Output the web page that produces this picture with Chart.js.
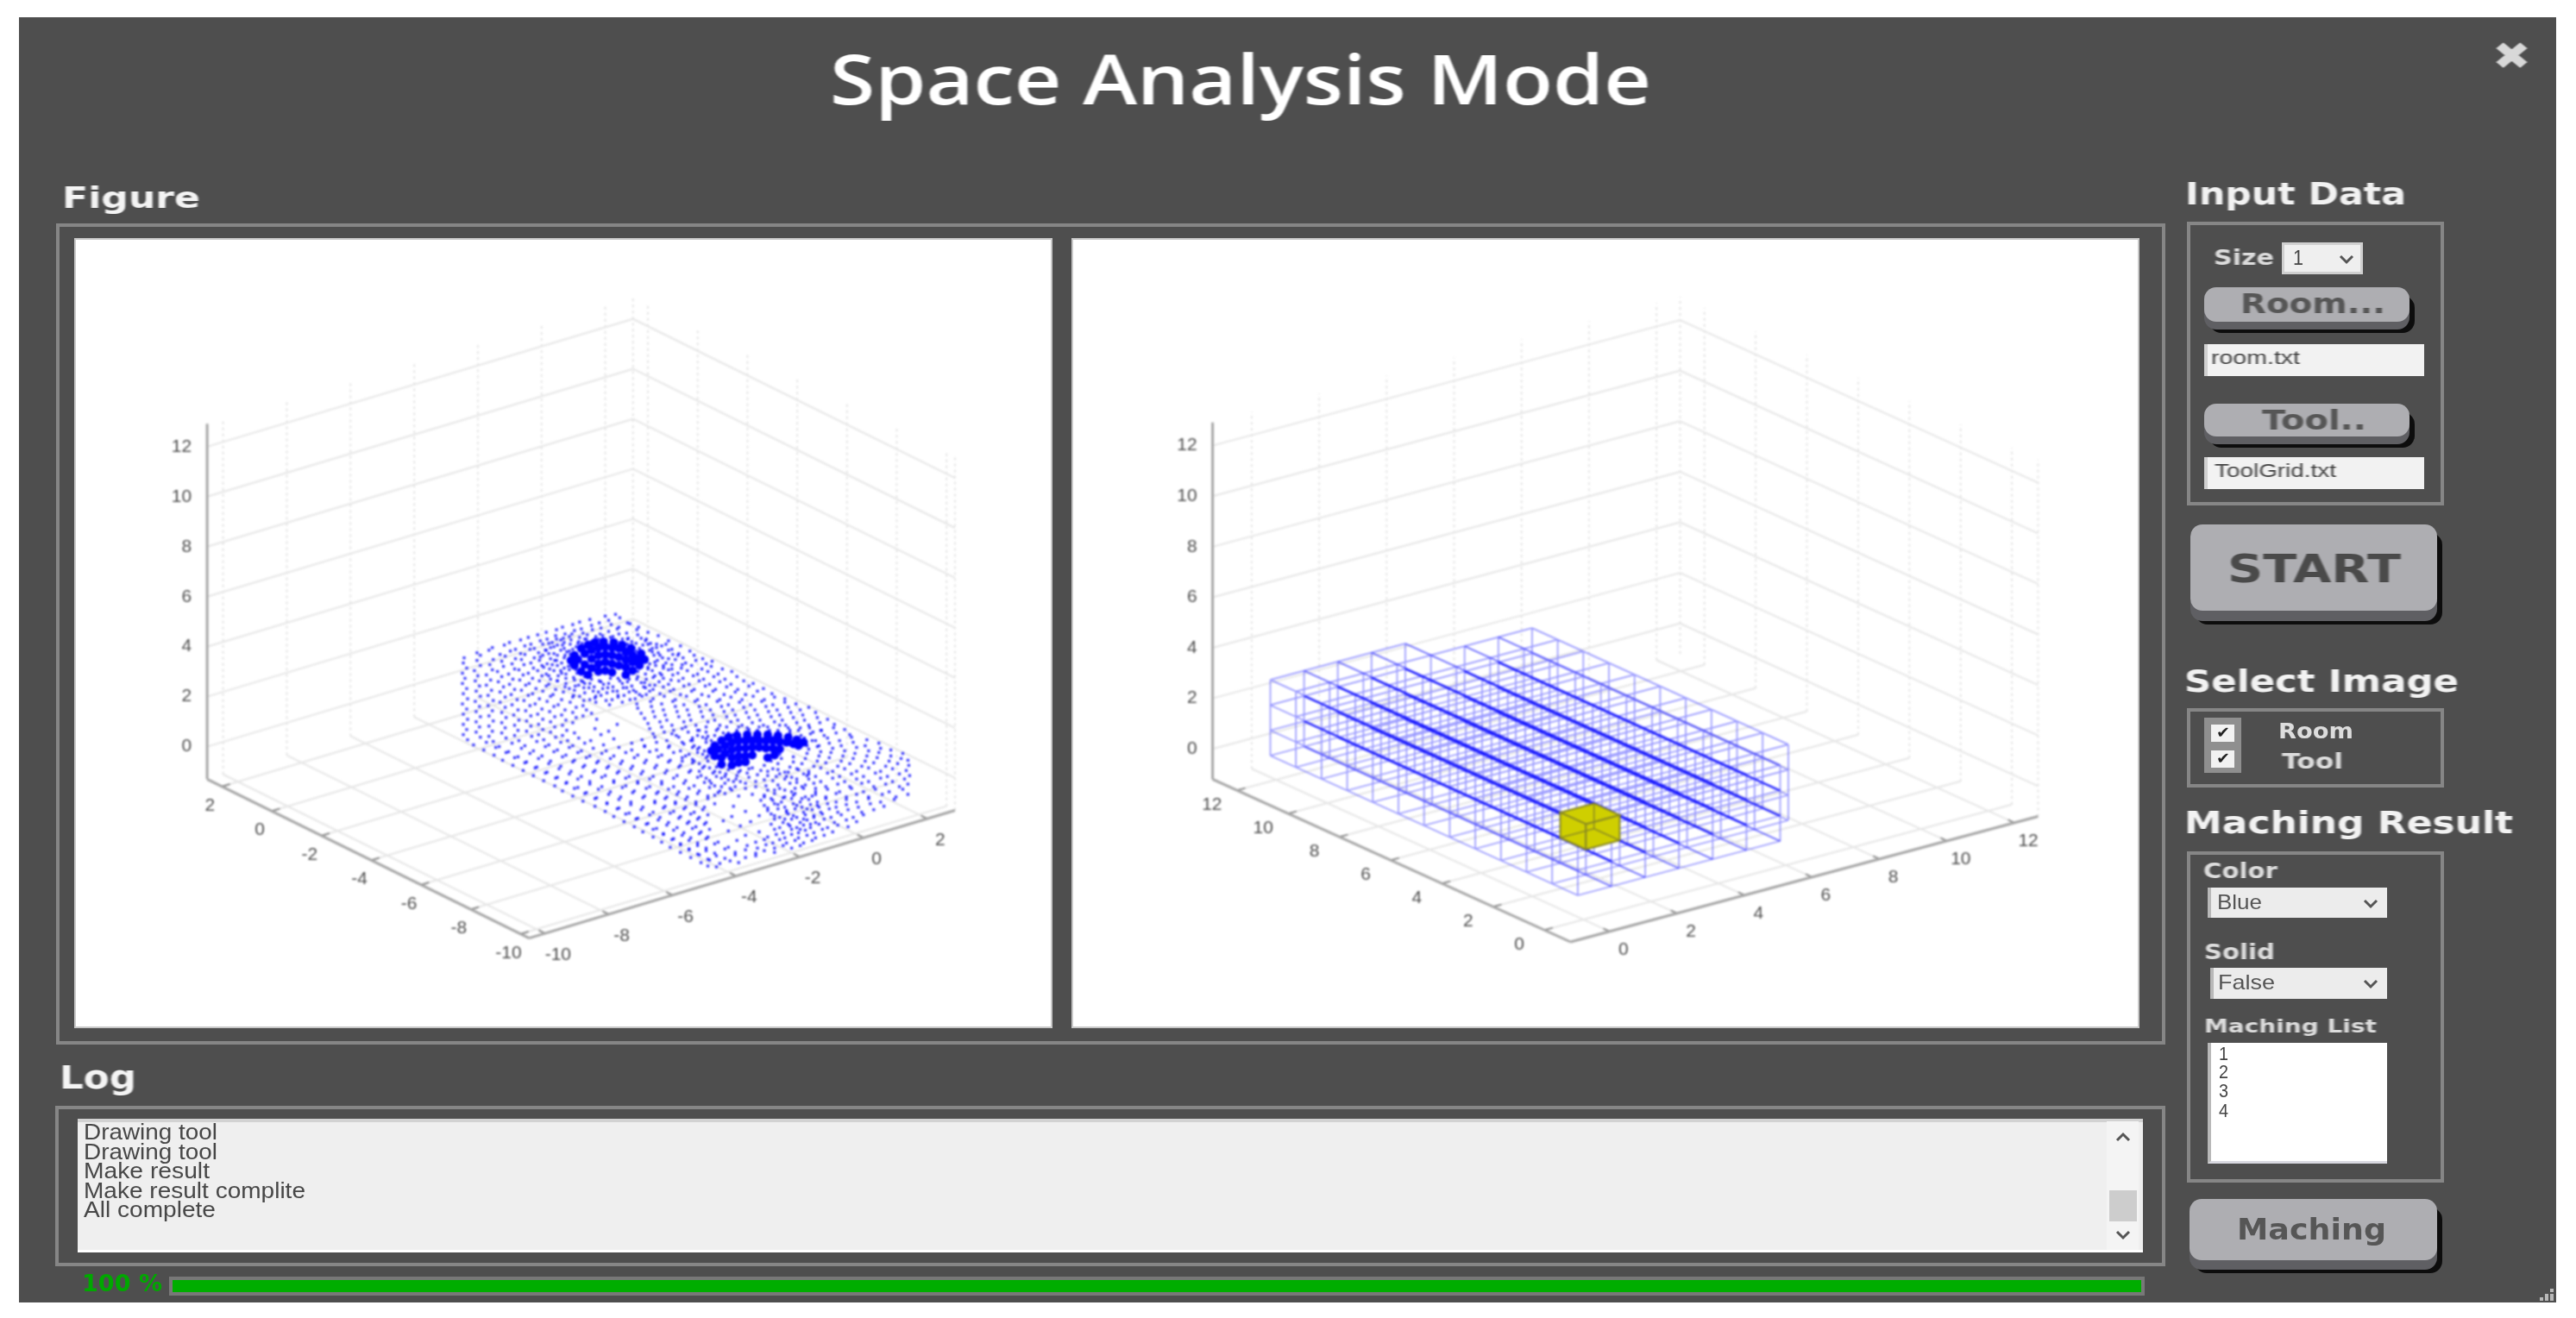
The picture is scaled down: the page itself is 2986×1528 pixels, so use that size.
<!DOCTYPE html>
<html>
<head>
<meta charset="utf-8">
<title>Space Analysis Mode</title>
<script src="https://cdn.jsdelivr.net/npm/chart.js@4"></script>
<style>
html, body { margin: 0; background: #fff; overflow: hidden; }
#app { position: relative; width: 2986px; height: 1528px; }
.b { position: absolute; box-sizing: border-box; }
.t { position: absolute; white-space: pre; line-height: 1; transform-origin: left center; filter: blur(0.7px); }
canvas { position: absolute; filter: blur(0.8px); }
</style>
</head>
<body>
<div id="app"></div>
<script>
// axis tick labels
const heightTicks = [0, 2, 4, 6, 8, 10, 12];
const roomLeftTicks = [2, 0, -2, -4, -6, -8, -10];
const roomRightTicks = [-10, -8, -6, -4, -2, 0, 2];
const toolLeftTicks = [12, 10, 8, 6, 4, 2, 0];
const toolRightTicks = [0, 2, 4, 6, 8, 10, 12];

// room scan, flat x,y pairs from the top of the cloud down
const roomScan = [
  702,714, 714,712,
  672,721, 684,718, 695,722, 706,719, 719,716, 728,722,
  652,727, 664,724, 674,729, 686,725, 697,728, 709,724, 718,727, 731,723, 741,727,
  633,733, 645,730, 655,735, 666,731, 676,734, 687,730, 696,735, 706,732, 716,729, 727,734, 739,730, 752,733,
  612,739, 623,736, 634,741, 644,737, 653,740, 663,735, 672,739, 681,736, 690,741, 699,737, 708,739, 718,735, 729,740, 740,736, 750,741, 764,737,
  590,745, 603,742, 615,747, 626,743, 636,746, 645,741, 654,745, 662,742, 670,746, 678,741, 686,744, 694,741, 702,745, 710,742, 719,745, 728,741, 738,746, 749,743, 762,747, 776,743,
  570,751, 584,748, 597,753, 608,749, 619,752, 629,747, 638,751, 646,748, 654,752, 661,747, 668,750, 675,746, 682,749, 728,747, 736,751, 746,748, 757,752, 768,749, 780,753, 790,749,
  552,757, 566,754, 579,759, 591,755, 603,758, 614,753, 624,757, 633,754, 642,758, 650,754, 657,756, 664,753, 738,755, 745,758, 754,754, 764,757, 776,754, 788,758, 801,755,
  537,763, 556,760, 571,765, 585,761, 597,764, 608,759, 619,763, 629,760, 638,764, 646,760, 654,763, 661,759, 743,761, 750,764, 759,760, 769,763, 781,759, 793,763, 806,760, 816,764,
  536,769, 552,766, 567,771, 581,767, 593,770, 604,765, 615,769, 625,766, 634,770, 643,766, 651,769, 659,765, 746,767, 754,770, 763,766, 773,769, 784,765, 796,769, 808,766, 820,770, 827,767,
  540,775, 556,772, 570,777, 583,773, 596,776, 607,771, 618,775, 628,772, 637,776, 646,772, 654,775, 662,771, 745,773, 752,776, 761,772, 770,775, 780,771, 791,775, 803,772, 815,776, 826,773, 839,776,
  535,781, 549,778, 563,783, 576,779, 589,782, 601,777, 612,781, 623,778, 633,782, 642,778, 651,781, 660,777, 669,781, 678,785, 740,779, 749,782, 757,778, 766,781, 776,777, 787,781, 798,778, 810,782, 822,779, 834,782, 850,779,
  538,787, 553,784, 568,789, 581,785, 594,788, 606,783, 617,787, 628,784, 638,788, 647,784, 656,787, 666,789, 676,791, 686,788, 697,791, 708,787, 719,790, 730,788, 740,785, 750,788, 760,784, 770,787, 781,783, 793,787, 805,784, 817,788, 829,785, 842,788, 856,785,
  535,793, 550,790, 563,795, 577,791, 590,794, 602,789, 613,793, 625,790, 636,794, 646,790, 656,793, 667,796, 678,793, 689,797, 700,794, 711,797, 722,793, 733,796, 744,792, 754,795, 765,791, 776,794, 788,790, 800,794, 812,790, 824,794, 836,791, 849,794, 864,790, 875,793,
  540,799, 555,796, 569,801, 583,797, 596,800, 609,795, 621,799, 633,796, 644,800, 655,797, 666,801, 677,798, 688,802, 699,799, 711,802, 723,798, 735,801, 747,797, 758,800, 770,797, 782,800, 794,796, 806,800, 819,796, 831,800, 844,797, 857,800, 870,796, 887,799,
  536,805, 551,802, 565,807, 579,803, 592,806, 604,801, 617,805, 629,802, 641,806, 653,803, 665,807, 678,804, 691,808, 704,804, 717,807, 730,803, 742,806, 754,802, 766,805, 778,802, 790,806, 803,802, 815,806, 828,802, 841,806, 854,803, 866,806, 880,802, 897,805,
  541,811, 556,808, 571,813, 585,809, 599,812, 612,807, 625,811, 638,808, 651,812, 664,809, 677,813, 690,810, 703,813, 717,809, 731,812, 745,808, 758,811, 771,808, 784,812, 797,808, 810,812, 823,808, 836,812, 849,809, 862,812, 875,808, 888,812, 900,809, 912,811,
  535,817, 550,814, 565,819, 579,815, 593,818, 607,813, 620,817, 634,814, 647,818, 661,815, 676,819, 691,815, 707,818, 722,815, 739,817, 755,814, 768,817, 781,814, 794,818, 807,814, 820,818, 833,814, 846,818, 859,815, 872,818, 885,814, 898,818, 912,815, 925,817,
  540,823, 555,820, 570,825, 585,821, 600,824, 614,819, 628,823, 642,820, 655,824, 668,821, 680,824, 740,822, 756,820, 770,824, 784,820, 798,824, 812,820, 825,824, 838,820, 851,824, 864,821, 877,824, 890,820, 903,824, 916,821, 930,824, 940,821,
  536,829, 551,826, 566,831, 581,827, 595,830, 609,825, 623,829, 637,826, 651,830, 664,827, 676,831, 686,828, 744,828, 758,826, 772,830, 786,826, 800,830, 814,826, 828,830, 841,826, 854,830, 867,827, 880,830, 893,826, 906,830, 919,827, 933,830, 948,827,
  541,835, 556,832, 571,837, 586,833, 601,836, 615,831, 629,835, 643,832, 656,836, 668,833, 692,835, 748,834, 760,832, 774,836, 788,832, 802,836, 816,832, 830,836, 844,832, 857,836, 870,833, 883,836, 896,832, 909,836, 922,833, 935,836, 950,833, 962,835,
  536,841, 551,838, 566,843, 581,839, 596,842, 610,837, 624,841, 638,838, 652,842, 664,839, 716,841, 752,840, 766,838, 780,842, 794,838, 808,842, 822,838, 836,842, 849,838, 862,842, 874,839, 887,842, 900,838, 913,842, 926,839, 940,842, 953,839, 970,841,
  540,847, 555,844, 570,849, 585,845, 600,848, 615,843, 629,847, 643,844, 657,848, 690,846, 706,849, 754,846, 768,844, 782,848, 796,844, 810,848, 820,844, 832,848, 844,844, 856,848, 868,845, 880,848, 892,844, 904,848, 916,845, 928,848, 941,845, 955,848, 969,845, 982,847,
  536,853, 551,850, 566,855, 581,851, 596,854, 610,849, 624,853, 638,850, 652,854, 666,851, 697,853, 758,852, 771,850, 785,854, 799,850, 810,854, 820,850, 830,854, 840,851, 850,853, 870,851, 892,850, 905,854, 918,851, 931,854, 945,850, 958,854, 972,851, 988,853,
  541,859, 556,856, 571,861, 586,857, 601,860, 616,855, 630,859, 644,856, 658,860, 671,857, 685,860, 712,858, 745,859, 760,856, 774,860, 788,856, 802,860, 816,856, 826,860, 935,857, 948,860, 962,857, 976,860, 990,856, 1008,859,
  548,865, 563,862, 578,867, 593,863, 608,866, 622,861, 636,865, 650,862, 664,866, 678,863, 700,865, 733,863, 748,866, 762,862, 777,866, 792,862, 806,866, 820,862, 936,864, 950,867, 964,863, 978,866, 992,862, 1006,866, 1022,863,
  560,871, 574,868, 589,873, 604,869, 618,872, 632,867, 646,871, 660,868, 674,872, 688,869, 703,872, 718,868, 733,871, 748,867, 762,871, 776,868, 790,872, 804,868, 818,872, 940,870, 954,873, 968,869, 982,872, 996,868, 1010,872, 1024,869, 1036,871,
  572,877, 586,874, 600,879, 614,875, 628,878, 642,873, 656,877, 670,874, 684,878, 698,875, 712,878, 726,874, 740,877, 754,873, 768,877, 782,874, 796,878, 810,874, 822,878, 906,876, 922,879, 938,875, 952,878, 966,874, 980,878, 994,875, 1008,878, 1022,874, 1036,878, 1050,875,
  582,883, 596,880, 610,885, 624,881, 638,884, 652,879, 666,883, 680,880, 694,884, 708,881, 722,884, 736,880, 750,883, 764,879, 778,883, 792,880, 806,884, 820,880, 896,884, 908,881, 922,885, 936,881, 950,884, 964,880, 978,884, 992,881, 1006,884, 1020,880, 1034,884, 1048,881, 1056,883,
  594,889, 608,886, 622,891, 636,887, 650,890, 664,885, 678,889, 692,886, 706,890, 720,887, 734,890, 748,886, 762,889, 776,885, 790,889, 804,886, 818,890, 832,891, 846,894, 860,895, 874,892, 888,889, 904,887, 918,891, 932,887, 946,890, 960,886, 974,890, 988,887, 1002,890, 1016,886, 1030,890, 1044,887, 1057,889,
  606,895, 620,892, 634,897, 648,893, 662,896, 676,891, 690,895, 704,892, 718,896, 732,893, 746,896, 760,892, 774,895, 788,891, 802,895, 816,892, 830,896, 843,899, 856,901, 868,898, 884,895, 898,893, 912,897, 926,893, 940,896, 954,892, 968,896, 982,893, 996,896, 1010,892, 1024,896, 1038,893, 1054,895,
  618,901, 632,898, 646,903, 660,899, 674,902, 688,897, 702,901, 716,898, 730,902, 744,899, 758,902, 772,898, 786,901, 800,897, 814,901, 828,898, 842,902, 855,905, 870,903, 892,901, 906,899, 920,903, 934,899, 948,902, 962,898, 976,902, 990,899, 1004,902, 1018,898, 1032,902, 1046,899, 1058,901,
  630,907, 644,904, 657,909, 670,905, 684,908, 698,903, 712,907, 726,904, 740,908, 754,905, 768,908, 782,904, 796,907, 810,903, 824,907, 838,904, 852,908, 866,910, 898,907, 912,905, 926,909, 940,905, 954,908, 968,904, 982,908, 996,905, 1010,908, 1024,904, 1038,908, 1052,905,
  643,913, 656,910, 670,915, 684,911, 698,914, 712,909, 726,913, 740,910, 754,914, 768,911, 782,914, 794,910, 806,913, 818,909, 830,913, 842,910, 854,914, 904,912, 918,910, 932,914, 946,910, 960,914, 974,911, 988,914, 1002,910, 1016,914, 1030,911, 1046,914, 1056,911,
  652,919, 666,916, 680,921, 694,917, 708,920, 722,915, 736,919, 750,916, 764,920, 776,917, 788,920, 800,916, 812,919, 824,915, 836,919, 848,916, 892,918, 906,916, 920,920, 934,916, 948,920, 962,917, 976,920, 990,916, 1004,920, 1018,917, 1034,920, 1050,917,
  664,925, 678,922, 692,927, 706,923, 720,926, 734,921, 748,925, 762,922, 774,926, 786,923, 798,926, 810,922, 822,925, 834,921, 888,924, 900,922, 912,926, 924,922, 936,926, 948,923, 960,926, 972,922, 984,926, 996,923, 1010,926, 1026,923, 1042,926, 1056,923,
  676,931, 690,928, 704,933, 718,929, 732,932, 746,927, 760,931, 772,928, 784,932, 796,929, 808,932, 822,928, 884,930, 896,928, 908,932, 920,928, 930,932, 940,929, 950,932, 960,928, 972,932, 984,929, 996,932, 1010,928, 1024,932, 1040,929,
  690,937, 704,934, 718,939, 732,935, 746,938, 760,933, 772,937, 784,934, 796,938, 808,935, 818,938, 830,934, 852,937, 888,936, 900,934, 912,938, 922,934, 932,938, 942,935, 952,938, 962,934, 972,938, 984,935, 998,938, 1012,934, 1028,937,
  702,943, 716,940, 730,945, 744,941, 758,944, 770,939, 782,943, 794,940, 806,944, 816,941, 866,943, 892,942, 904,940, 914,944, 924,940, 934,944, 944,941, 954,944, 964,940, 974,944, 986,941, 1002,944, 1016,941,
  712,949, 726,946, 740,951, 754,947, 766,950, 778,945, 790,949, 802,946, 812,950, 822,947, 850,949, 882,948, 896,946, 906,950, 916,946, 926,950, 936,947, 946,950, 956,946, 966,950, 978,947, 992,950, 1004,947,
  724,955, 738,952, 752,957, 764,953, 776,956, 788,951, 800,955, 810,952, 820,956, 840,954, 872,955, 900,952, 910,956, 920,952, 930,956, 938,953, 948,956, 958,952, 970,956, 984,953, 996,955,
  736,961, 750,958, 762,963, 774,959, 786,962, 798,957, 808,961, 818,958, 860,960, 896,958, 906,962, 916,958, 926,962, 934,959, 942,962, 952,958, 962,962, 974,959, 986,961,
  746,967, 758,964, 770,969, 782,965, 794,968, 804,963, 814,967, 824,964, 846,966, 882,967, 900,964, 910,968, 920,964, 928,968, 936,965, 946,968, 956,964, 968,967,
  758,973, 770,970, 782,975, 792,971, 802,974, 812,969, 822,973, 866,971, 892,973, 902,970, 912,974, 920,970, 928,974, 938,971, 948,974, 958,971,
  768,979, 780,976, 790,981, 800,977, 810,980, 820,975, 834,979, 856,977, 878,979, 888,976, 898,980, 906,976, 914,980, 924,977, 934,980, 944,977,
  778,985, 790,982, 800,987, 810,983, 820,986, 830,981, 846,985, 868,983, 880,986, 890,982, 900,986, 910,983, 920,986, 930,983,
  790,991, 800,988, 810,993, 820,989, 830,992, 842,987, 854,991, 866,988, 878,992, 888,989, 900,991,
  802,997, 812,994, 822,999, 832,995, 842,998, 854,994, 866,997, 878,995,
  814,1003, 824,1000, 836,1004, 848,1001, 858,1003,
  822,1007, 832,1008
];
// more dots crowding in around the two dense spots and along the rays out of them
const roomHalo = [
  640,745, 650,742, 660,738, 671,744, 680,741, 691,738, 700,742, 711,738, 722,741, 733,744, 744,740, 755,746,
  632,754, 642,750, 652,748, 660,755, 733,748, 742,752, 752,747, 762,751, 773,747,
  626,762, 636,758, 645,766, 655,760, 664,768, 748,762, 757,756, 766,760, 776,764, 787,760,
  630,774, 640,771, 650,778, 659,773, 668,777, 752,774, 760,768, 770,772, 780,776, 792,771,
  636,784, 646,790, 656,782, 665,786, 674,790, 684,793, 695,790, 706,793, 717,787, 728,791, 739,788, 748,792, 758,786, 768,783, 779,789,
  660,799, 671,795, 683,798, 694,803, 705,798, 716,802, 727,798, 738,803, 749,798, 760,795,
  672,808, 684,812, 697,807, 710,812, 724,807, 737,811, 750,806,
  780,852, 792,846, 804,857, 812,848, 822,855, 834,846, 846,851, 858,844, 870,847, 882,844, 894,848, 906,842, 918,848, 930,845, 942,852, 954,848,
  794,864, 804,860, 812,868, 820,858, 800,876, 810,870, 816,876, 792,884, 804,882, 812,887, 822,884, 938,866, 944,860, 952,866,
  812,896, 824,892, 836,897, 848,890, 858,897, 870,893, 880,900, 892,896, 904,894, 916,897, 928,894, 940,899,
  820,904, 832,902, 846,906, 860,908, 878,908, 888,906, 902,902, 914,902, 926,905, 938,901,
  826,910, 838,914, 850,918, 866,916, 878,914, 890,913, 900,918, 912,918, 924,916, 936,912, 948,916,
  830,924, 842,922, 858,925, 874,923, 888,926, 898,930, 910,927, 922,924, 932,928, 944,925,
  892,939, 904,935, 914,942, 926,936, 938,940, 950,936, 900,948, 912,952, 922,948, 934,952, 946,948, 918,960, 930,964, 942,958
];
// the two places where the scan is so dense it reads as solid blue
const roomDense = [
  [670, 765], [678, 758], [678, 771], [686, 754], [686, 764], [686, 775], [694, 751], [694, 760], [694, 770], [694, 779],
  [702, 750], [702, 759], [702, 768], [702, 778], [710, 751], [710, 760], [710, 770], [710, 780], [718, 752], [718, 762],
  [718, 772], [726, 756], [726, 765], [726, 774], [734, 760], [734, 768], [741, 764],
  [662, 766], [666, 760], [666, 772], [674, 752], [674, 779], [682, 748], [682, 783], [726, 783], [734, 778], [742, 772],
  [744, 758], [748, 765], [690, 745], [700, 744], [712, 745], [722, 748], [732, 752],
  [834, 870], [842, 866], [842, 875], [850, 862], [850, 871], [850, 880], [858, 860], [858, 869], [858, 878], [858, 886],
  [866, 860], [866, 869], [866, 878], [866, 885], [874, 860], [874, 868], [874, 877], [882, 860], [882, 868], [890, 860],
  [890, 869], [898, 860], [898, 869], [892, 880], [900, 877], [906, 861], [906, 870], [914, 862], [922, 864], [928, 866],
  [826, 872], [830, 866], [830, 878], [838, 880], [838, 860], [846, 856], [856, 854], [868, 853], [880, 853], [892, 853],
  [904, 854], [916, 856], [926, 859], [934, 862], [838, 888], [850, 889]
];

// tool grid: node values and, per column, which nodes the column runs between
const toolP = [-0.25, 0.75, 1.75, 2.75, 3.75, 4.75, 5.75, 6.75, 7.75, 8.75, 9.75, 10.75, 11.75];
const toolQ = [-0.36, 0.64, 1.64, 2.64, 3.64, 4.64, 5.64, 6.64];
const toolZ = [0, 1, 2, 3];
const columnFront = [0, 0, 0, 0, 0, 0, 1];
const columnBack = [12, 12, 12, 12, 11, 11, 11];
const matchedCell = [1, 1, 1]; // p, q, z node index of the yellow cell

// how each 3d box lands on the flat scales of its chart
const roomView = { x0: 613, y0: 1091.5, u0: -10.34, u1: 2.6, v0: -10.5, v1: 2.87, z0: -1.3, z1: 12.92, ux: -29.1, uy: -14.4, vx: 37.25, vy: -11.2, zy: -29.3 };
const toolView = { x0: 1820.5, y0: 1092, u0: -1.02, u1: 12.95, v0: -1.16, v1: 12.7, z0: -1.2, z1: 12.92, ux: -29.7, uy: -13.5, vx: 39.1, vy: -10.5, zy: -29.3 };

function project(view, u, v, z) {
  const du = u - view.u0, dv = v - view.v0, dz = z - view.z0;
  return { x: view.x0 + du * view.ux + dv * view.vx, y: view.y0 + du * view.uy + dv * view.vy + dz * view.zy };
}

function segments(view, list) {
  const out = [];
  for (const [a, b] of list) {
    out.push(project(view, ...a), project(view, ...b), { x: NaN, y: NaN });
  }
  return out;
}

function lineSet(data, color, width, order, dash) {
  return { type: 'scatter', data, showLine: true, borderColor: color, borderWidth: width, borderDash: dash || [], pointRadius: 0, order, spanGaps: false, fill: false };
}

function boxSets(view, uTicks, vTicks) {
  const { u0, u1, v0, v1, z0, z1 } = view;
  const solid = [], dotted = [];
  for (const z of heightTicks) {
    solid.push([[u1, v0, z], [u1, v1, z]], [[u1, v1, z], [u0, v1, z]]);
  }
  for (const u of uTicks) {
    solid.push([[u, v0, z0], [u, v1, z0]]);
    dotted.push([[u, v1, z0], [u, v1, z1]]);
  }
  for (const v of vTicks) {
    solid.push([[u0, v, z0], [u1, v, z0]]);
    dotted.push([[u1, v, z0], [u1, v, z1]]);
  }
  dotted.push([[u1, v1, z0], [u1, v1, z1]], [[u0, v1, z0], [u0, v1, z1]]);
  const axes = [[[u1, v0, z0], [u1, v0, z1]], [[u1, v0, z0], [u0, v0, z0]], [[u0, v0, z0], [u0, v1, z0]]];
  const ticks = [];
  for (const u of uTicks) ticks.push([[u, v0, z0], [u, v0 + 0.25, z0]]);
  for (const v of vTicks) ticks.push([[u0, v, z0], [u0 + 0.25, v, z0]]);
  return [
    lineSet(segments(view, solid), '#e6e6e6', 2, 50),
    lineSet(segments(view, dotted), '#e4e4e4', 2, 51, [3, 4]),
    lineSet(segments(view, axes), '#a6a6a6', 3, 40),
    lineSet(segments(view, ticks), '#8c8c8c', 2, 41)
  ];
}

function toolSets(view) {
  const pale = [], medium = [], dark = [];
  for (let i = 0; i < toolQ.length; i++) {
    const left = i > 0 ? i - 1 : 0, right = i < columnFront.length ? i : columnFront.length - 1;
    const from = Math.min(columnFront[left], columnFront[right]);
    const to = Math.max(columnBack[left], columnBack[right]);
    for (let k = 0; k < toolZ.length; k++) {
      const seg = [[toolP[from], toolQ[i], toolZ[k]], [toolP[to], toolQ[i], toolZ[k]]];
      const inner = i > 0 && i < toolQ.length - 1;
      if (inner && k > 0 && k < toolZ.length - 1) dark.push(seg);
      else if (inner) medium.push(seg);
      else pale.push(seg);
    }
    for (let j = from; j <= to; j++) {
      pale.push([[toolP[j], toolQ[i], toolZ[0]], [toolP[j], toolQ[i], toolZ[toolZ.length - 1]]]);
    }
  }
  columnFront.forEach((front, i) => {
    for (let j = front; j <= columnBack[i]; j++) {
      for (const z of toolZ) pale.push([[toolP[j], toolQ[i], z], [toolP[j], toolQ[i + 1], z]]);
    }
  });
  const [cp, cq, cz] = matchedCell;
  const p0 = toolP[cp], p1 = toolP[cp + 1], q0 = toolQ[cq], q1 = toolQ[cq + 1], z0 = toolZ[cz], z1 = toolZ[cz + 1];
  const face = corners => ({
    type: 'scatter', data: corners.map(c => project(view, ...c)), showLine: true, fill: 'shape',
    backgroundColor: '#cfcf00', borderColor: '#8b8b22', borderWidth: 2, pointRadius: 0, order: 1
  });
  const hidden = [[[p1, q1, z0], [p0, q1, z0]], [[p1, q1, z0], [p1, q0, z0]], [[p1, q1, z0], [p1, q1, z1]]];
  return [
    lineSet(segments(view, pale), 'rgba(70,70,255,0.55)', 1.7, 12),
    lineSet(segments(view, medium), 'rgba(40,40,255,0.65)', 2, 11),
    lineSet(segments(view, dark), 'rgba(0,0,255,0.8)', 2.3, 10),
    face([[p0, q0, z0], [p0, q1, z0], [p0, q1, z1], [p0, q0, z1], [p0, q0, z0]]),
    face([[p0, q0, z0], [p1, q0, z0], [p1, q0, z1], [p0, q0, z1], [p0, q0, z0]]),
    face([[p0, q0, z1], [p1, q0, z1], [p1, q1, z1], [p0, q1, z1], [p0, q0, z1]]),
    lineSet(segments(view, hidden), '#8b8b22', 1.5, 0)
  ];
}

function tickLabelPlugin(view, leftTicks, rightTicks, leftOffset, rightOffset) {
  return {
    id: 'boxTickLabels',
    afterDatasetsDraw(chart) {
      const { ctx, scales } = chart;
      const put = (pos, text, dx, dy, align) => {
        ctx.textAlign = align;
        ctx.fillText(text, scales.x.getPixelForValue(pos.x) + dx, scales.y.getPixelForValue(pos.y) + dy);
      };
      ctx.save();
      ctx.font = '21px "Liberation Sans"';
      ctx.fillStyle = '#4c4c4c';
      ctx.textBaseline = 'middle';
      for (const z of heightTicks) put(project(view, view.u1, view.v0, z), String(z), -18, 0, 'right');
      for (const u of leftTicks) put(project(view, u, view.v0, view.z0), String(u), leftOffset[0], leftOffset[1], 'center');
      for (const v of rightTicks) put(project(view, view.u0, v, view.z0), String(v), rightOffset[0], rightOffset[1], 'center');
      ctx.restore();
    }
  };
}

function makePlot(left, top, right, bottom, datasets, plugin) {
  const canvas = document.createElement('canvas');
  canvas.width = right - left;
  canvas.height = bottom - top;
  canvas.style.cssText = `left:${left}px;top:${top}px;width:${right - left}px;height:${bottom - top}px`;
  app.append(canvas);
  return new Chart(canvas.getContext('2d'), {
    type: 'scatter',
    data: { datasets },
    plugins: [plugin],
    options: {
      responsive: false,
      animation: false,
      devicePixelRatio: 1,
      layout: { padding: 0 },
      plugins: { legend: { display: false }, tooltip: { enabled: false } },
      scales: {
        x: { type: 'linear', min: left, max: right, display: false },
        y: { type: 'linear', min: top, max: bottom, reverse: true, display: false }
      }
    }
  });
}

// ---- window chrome around the two plots ----
const app = document.getElementById('app');

function box(x0, y0, x1, y1, css) {
  const d = document.createElement('div');
  d.className = 'b';
  d.style.cssText = `left:${x0}px;top:${y0}px;width:${x1 - x0}px;height:${y1 - y0}px;${css}`;
  app.append(d);
  return d;
}

// text placed by left edge, vertical centre and the width it has in the picture
function text(str, x, cy, w, size, font, weight, color) {
  const d = document.createElement('div');
  d.className = 't';
  d.textContent = str;
  d.style.cssText = `left:${x}px;top:${cy}px;font:${weight} ${size}px ${font};line-height:1;color:${color}`;
  app.append(d);
  const real = d.getBoundingClientRect().width;
  d.style.transform = `translateY(-50%) scaleX(${w / real})`;
  return d;
}

function chevron(cx, cy, up) {
  const s = document.createElementNS('http://www.w3.org/2000/svg', 'svg');
  s.setAttribute('width', 24);
  s.setAttribute('height', 12);
  s.style.cssText = `position:absolute;left:${cx - 12}px;top:${cy - 6}px`;
  s.innerHTML = `<polyline points="${up ? '5,10 12,3 19,10' : '5,2 12,9 19,2'}" fill="none" stroke="#555" stroke-width="3"/>`;
  app.append(s);
}

function button(x0, y0, x1, y1, lip) {
  box(x0 + 6, y0 + 10, x1 + 6, y1 + 4, 'background:#0d0d0d;border-radius:14px');
  box(x0, y0 + 8, x1, y1, 'background:#5f5f63;border-radius:14px');
  box(x0, y0, x1, y1 - lip, 'background:#aeaeb2;border-radius:14px');
}

const HEAD = '"DejaVu Sans"';
const BODY = '"Liberation Sans"';
const FRAME = 'border:4px solid #868686';

box(22, 20, 2963, 1510, 'background:#4e4e4e');
text('Space Analysis Mode', 962, 90, 952, 80, '"Open Sans"', 600, '#ffffff');
text('✖', 2889, 65, 45, 44, HEAD, 400, '#d8d8d8');

text('Figure', 72, 229, 160, 34, HEAD, 700, '#f4f4f4');
box(65, 259, 2510, 1211, FRAME);
box(88, 278, 1218, 1190, 'background:#fff;box-shadow:0 0 0 2px #c8c8c8');
box(1244, 278, 2478, 1190, 'background:#fff;box-shadow:0 0 0 2px #c8c8c8');

text('Log', 69, 1249, 89, 38, HEAD, 700, '#f4f4f4');
box(64, 1282, 2510, 1468, FRAME);
box(90, 1297, 2484, 1452, 'background:#efefef;border-top:4px solid #d2d2d2;border-bottom:3px solid #fff');
box(2442, 1300, 2479, 1449, 'background:#f4f4f4');
box(2445, 1380, 2477, 1416, 'background:#cdcdcd');
chevron(2461, 1318, true);
chevron(2461, 1432, false);
['Drawing tool', 'Drawing tool', 'Make result', 'Make result complite', 'All complete'].forEach((line, i) => {
  const widths = [155, 155, 146, 257, 153];
  text(line, 97, [1312, 1335, 1357, 1380, 1402][i], widths[i], 26, BODY, 400, '#474747');
});

text('100 %', 95, 1488, 93, 26, HEAD, 700, '#00a800');
box(196, 1480, 2486, 1502, 'background:#00ad00;border:4px solid #787878');

text('Input Data', 2533, 225, 256, 36, HEAD, 700, '#f2f2f2');
box(2535, 257, 2833, 586, FRAME);
text('Size', 2566, 299, 70, 24, HEAD, 700, '#dcdcdc');
box(2645, 281, 2739, 318, 'background:#efefef;border:3px solid #cfcfcf');
text('1', 2658, 299, 12, 24, BODY, 400, '#444');
chevron(2720, 301, false);
button(2555, 333, 2793, 382, 9);
text('Room...', 2597, 352, 168, 32, HEAD, 700, '#565656');
box(2555, 399, 2810, 436, 'background:#f2f2f2;border-left:4px solid #d0d0d0');
text('room.txt', 2563, 415, 103, 22, BODY, 400, '#444');
button(2555, 468, 2793, 515, 9);
text('Tool..', 2622, 487, 121, 32, HEAD, 700, '#565656');
box(2555, 530, 2810, 567, 'background:#f2f2f2;border-left:4px solid #d0d0d0');
text('ToolGrid.txt', 2567, 546, 141, 22, BODY, 400, '#444');
button(2539, 608, 2825, 720, 12);
text('START', 2582, 660, 201, 44, HEAD, 700, '#4a4a4a');

text('Select Image', 2532, 790, 318, 36, HEAD, 700, '#f2f2f2');
box(2535, 821, 2833, 913, FRAME);
box(2555, 832, 2598, 896, 'background:#8f8f8f');
for (const y of [840, 870]) {
  box(2563, y, 2590, y + 20, 'background:#f2f2f2');
  text('✔', 2569, y + 9, 16, 18, HEAD, 400, '#222');
}
text('Room', 2641, 848, 87, 24, HEAD, 700, '#dcdcdc');
text('Tool', 2645, 883, 71, 24, HEAD, 700, '#dcdcdc');

text('Maching Result', 2532, 954, 381, 36, HEAD, 700, '#f2f2f2');
box(2535, 987, 2833, 1371, FRAME);
text('Color', 2554, 1010, 86, 24, HEAD, 700, '#dcdcdc');
box(2559, 1029, 2767, 1064, 'background:#ececec;border-left:4px solid #b8b8b8');
text('Blue', 2570, 1046, 52, 24, BODY, 400, '#555');
chevron(2748, 1048, false);
text('Solid', 2555, 1104, 82, 24, HEAD, 700, '#dcdcdc');
box(2562, 1122, 2767, 1158, 'background:#ececec;border-left:4px solid #b8b8b8');
text('False', 2571, 1139, 66, 24, BODY, 400, '#555');
chevron(2748, 1141, false);
text('Maching List', 2555, 1190, 200, 22, HEAD, 700, '#dcdcdc');
box(2559, 1209, 2767, 1349, 'background:#fff;border-left:4px solid #b8b8b8;border-bottom:3px solid #d8d8e0');
['1', '2', '3', '4'].forEach((n, i) => {
  text(n, 2572, [1222, 1243, 1265, 1288][i], 11, 22, BODY, 400, '#444');
});
button(2538, 1390, 2825, 1472, 11);
text('Maching', 2593, 1425, 173, 34, HEAD, 700, '#565656');

// resize grip, bottom right corner
[[2956, 1494], [2950, 1500], [2956, 1500], [2944, 1504], [2950, 1504], [2956, 1504]].forEach(([x, y]) => {
  box(x, y, x + 4, y + 4, 'background:#b8b8b8');
});

// ---- the two plots ----
const roomPoints = [];
for (const list of [roomScan, roomHalo]) {
  for (let i = 0; i < list.length; i += 2) roomPoints.push({ x: list[i], y: list[i + 1] });
}
const roomSets = [
  { type: 'scatter', data: roomDense.map(([x, y]) => ({ x, y })), backgroundColor: '#0000ff', borderWidth: 0, pointRadius: 5, order: 1 },
  { type: 'scatter', data: roomPoints, backgroundColor: 'rgba(0,0,255,0.78)', borderWidth: 0, pointStyle: 'rect', pointRadius: 2.3, order: 2 },
  ...boxSets(roomView, roomLeftTicks, roomRightTicks)
];
makePlot(88, 278, 1218, 1190, roomSets, tickLabelPlugin(roomView, roomLeftTicks, roomRightTicks, [-14, 22], [15, 25]));

const toolDatasets = [...toolSets(toolView), ...boxSets(toolView, toolLeftTicks, toolRightTicks)];
makePlot(1244, 278, 2478, 1190, toolDatasets, tickLabelPlugin(toolView, toolLeftTicks, toolRightTicks, [-29, 17], [16, 21]));
</script>
</body>
</html>
